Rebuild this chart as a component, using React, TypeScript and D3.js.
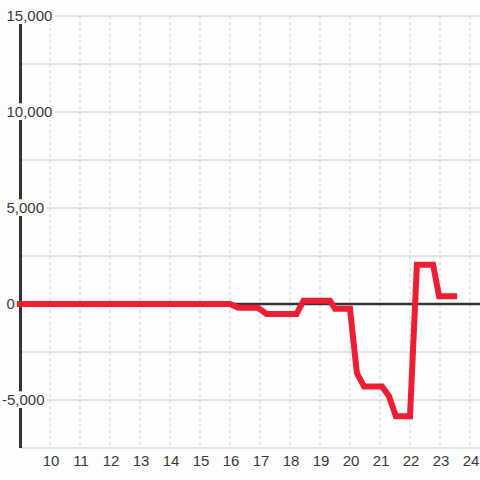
import React from "react";
import * as d3 from "d3";

const xValues = [9, 16.0, 16.28, 16.93, 17.22, 18.22, 18.45, 19.33, 19.5, 20.0, 20.23, 20.47, 21.07, 21.3, 21.53, 22.0, 22.23, 22.77, 22.97, 23.47];
const yValues = [0, 0, -200, -200, -520, -520, 170, 170, -250, -250, -3600, -4300, -4300, -4800, -5850, -5850, 2050, 2050, 400, 400];
const xTicks = [10, 11, 12, 13, 14, 15, 16, 17, 18, 19, 20, 21, 22, 23, 24];
const yGrid = [15000, 12500, 10000, 7500, 5000, 2500, 0, -2500, -5000, -7500];
const yLabels = [15000, 10000, 5000, 0, -5000];

const W = 480;
const H = 480;
const BG = "#fcfdfc";
const FONT = "'Liberation Sans', Arial, sans-serif";

export default function App() {
  const x = d3.scaleLinear().domain([9, 9 + 460 / 30]).range([20, 480]);
  const y = d3.scaleLinear().domain([-7500, 15000]).range([448, 16]);
  const fmt = d3.format(",");
  const data = xValues.map((v, i) => [v, yValues[i]] as [number, number]);
  const line = d3.line<[number, number]>().x((d) => x(d[0])).y((d) => y(d[1]));

  const labelWidth = (v: number) => {
    const s = fmt(Math.abs(v));
    let w = 0;
    for (const c of s) w += c === "," ? 4.2 : 8.35;
    return w;
  };

  return (
    <svg width={W} height={H} style={{ position: "absolute", left: 0, top: 0 }} fontFamily={FONT}>
      <rect x={0} y={0} width={W} height={H} fill={BG} />
      {xTicks.map((t) => (
        <line key={"v" + t} x1={x(t)} x2={x(t)} y1={16} y2={448} stroke="#cccccc" strokeWidth={1} strokeDasharray="3,3" />
      ))}
      {yGrid.map((t) => (
        <line key={"h" + t} x1={20} x2={W} y1={y(t)} y2={y(t)} stroke="#cccccc" strokeWidth={1} />
      ))}
      <line x1={20.5} x2={20.5} y1={24} y2={448} stroke="#333333" strokeWidth={3} />
      <line x1={20} x2={W} y1={y(0)} y2={y(0)} stroke="#333333" strokeWidth={2.5} />
      {yLabels.map((t) => {
        const w = labelWidth(t);
        const x0 = 6.5;
        return (
          <g key={"l" + t}>
            <rect x={0} y={y(t) - 8.7} width={x0 + w + 2.5} height={16.7} fill={BG} />
            <text x={t < 0 ? x0 - 4.5 : x0} y={y(t)} dy="0.36em" fontSize={15} fill="#3a3a3a" textAnchor="start">
              {(t < 0 ? "-" : "") + fmt(Math.abs(t))}
            </text>
          </g>
        );
      })}
      {xTicks.map((t) => (
        <text key={"x" + t} x={x(t) + 1} y={466} fontSize={15} fill="#3a3a3a" textAnchor="middle">
          {t}
        </text>
      ))}
      <path d={line(data) || ""} fill="none" stroke="#ec1e33" strokeWidth={6} strokeLinecap="square" strokeLinejoin="miter" />
    </svg>
  );
}
